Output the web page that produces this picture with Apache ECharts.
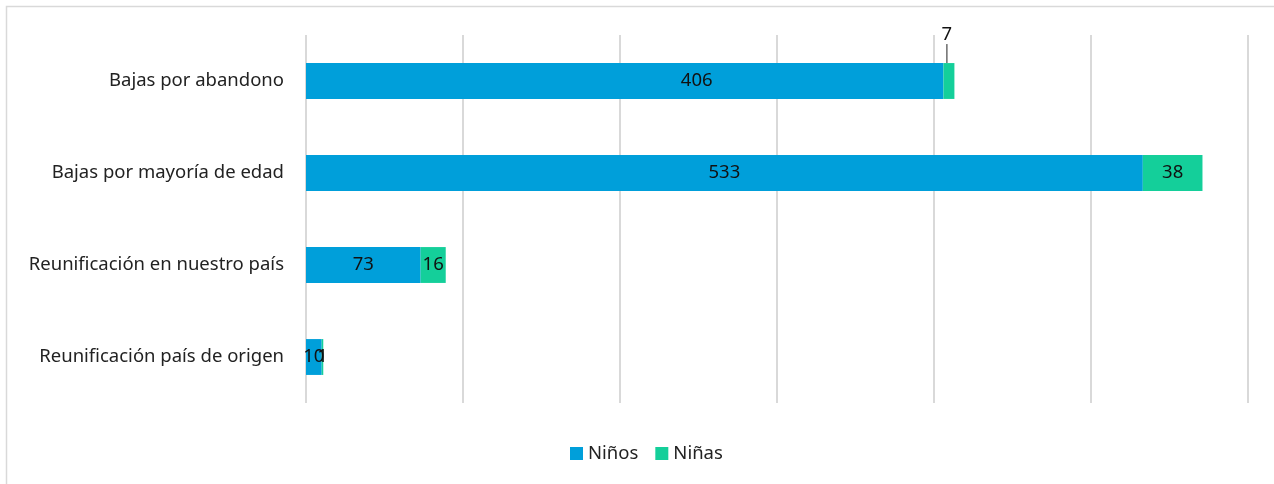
<!DOCTYPE html>
<html>
<head>
<meta charset="utf-8">
<script src="https://cdn.jsdelivr.net/npm/echarts@6/dist/echarts.min.js"></script>
<style>
  html, body { margin: 0; padding: 0; background: #fff; }
  #chart { width: 1274px; height: 484px; }
</style>
</head>
<body>
<div id="chart"></div>
<script>
  // categorías (de abajo arriba, como las dibuja el eje)
  const categories = [
    'Reunificación país de origen',
    'Reunificación en nuestro país',
    'Bajas por mayoría de edad',
    'Bajas por abandono'
  ];
  const ninos = [10, 73, 533, 406];
  const ninas = [1, 16, 38, 7];

  const blue = '#009FDA';
  const green = '#14CF9A';
  const fontSize = 18.5;

  let myChart = echarts.init(document.getElementById('chart'));

  // la etiqueta "406" está desplazada a la derecha en el original
  let ninosData = ninos.map((v, i) => {
    if (i === 3) {
      return { value: v, label: { offset: [72, 0] } }
    }
    return v
  })

  // la etiqueta "7" va fuera de la barra, con su línea guía
  let ninasData = ninas.map((v, i) => {
    if (i === 3) {
      return {
        value: v,
        label: { position: 'top', distance: 2 },
        labelLine: { show: true, length2: 0, lineStyle: { color: '#222', width: 1 } }
      }
    }
    return v
  })

  myChart.setOption({
    animation: false,
    textStyle: { fontFamily: 'Noto Sans' },
    graphic: [
      {
        type: 'rect',
        shape: { x: 6.5, y: 6.5, width: 1300, height: 520 },
        style: { fill: 'none', stroke: '#d9d9d9', lineWidth: 1.5 }
      }
    ],
    grid: { left: 306, right: 26, top: 35, bottom: 81 },
    legend: {
      bottom: 16,
      left: 565,
      itemWidth: 13,
      itemHeight: 13,
      itemGap: 17,
      icon: 'rect',
      textStyle: { fontSize: fontSize, color: '#222' },
      data: ['Niños', 'Niñas']
    },
    xAxis: {
      type: 'value',
      min: 0,
      max: 600,
      interval: 100,
      axisLabel: { show: false },
      axisLine: { show: false },
      axisTick: { show: false },
      splitLine: { lineStyle: { color: '#d9d9d9', width: 2 } }
    },
    yAxis: {
      type: 'category',
      data: categories,
      axisLine: { show: false },
      axisTick: { show: false },
      axisLabel: { fontSize: fontSize, color: '#222', margin: 22 }
    },
    series: [
      {
        name: 'Niños',
        type: 'bar',
        stack: 'total',
        barWidth: '39%',
        itemStyle: { color: blue },
        label: { show: true, position: 'inside', color: '#111', fontSize: fontSize },
        data: ninosData
      },
      {
        name: 'Niñas',
        type: 'bar',
        stack: 'total',
        itemStyle: { color: green },
        label: { show: true, position: 'inside', color: '#111', fontSize: fontSize },
        labelLayout: (params) => params.dataIndex === 3 ? { dx: -2, dy: -17 } : {},
        data: ninasData
      }
    ]
  })
</script>
</body>
</html>
